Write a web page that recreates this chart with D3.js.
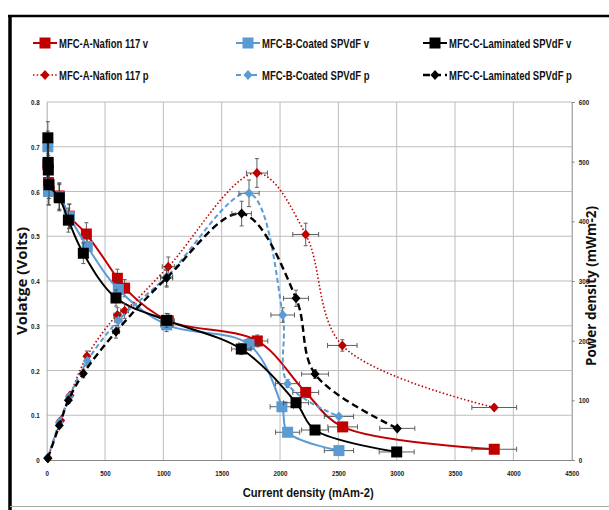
<!DOCTYPE html>
<html><head><meta charset="utf-8">
<script src="https://cdn.jsdelivr.net/npm/d3@7"></script>
<style>body{margin:0;background:#fff}svg{display:block}</style>
</head><body>
<svg id="c" width="609" height="510"></svg>
<script>
// ---- data ----
const xTicks = [0,500,1000,1500,2000,2500,3000,3500,4000,4500];
const vTicks = [0,0.1,0.2,0.3,0.4,0.5,0.6,0.7,0.8];
const pTicks = [0,100,200,300,400,500,600];
const seriesNames = ["MFC-A-Nafion 117 v","MFC-B-Coated SPVdF v","MFC-C-Laminated SPVdF v",
                     "MFC-A-Nafion 117 p","MFC-B-Coated SPVdF p","MFC-C-Laminated SPVdF p"];
// voltage (current density mA m-2, volts)
const aI_v = [10,15,20,108,194,340,606,668,1042,1805,2220,2537,3836];
const aV   = [0.66,0.62,0.60,0.59,0.545,0.505,0.406,0.384,0.311,0.266,0.151,0.074,0.024];
const bI_v = [10,12,15,108,194,348,614,1028,1734,2016,2065,2505];
const bV   = [0.70,0.665,0.60,0.588,0.544,0.477,0.381,0.302,0.258,0.119,0.062,0.021];
const cI_v = [10,12,14,20,108,186,314,594,1028,1668,2137,2300,3000];
const cV   = [0.72,0.665,0.648,0.615,0.586,0.536,0.462,0.362,0.312,0.248,0.128,0.067,0.018];
// power (current density, mW m-2)
const aI_p = [10,120,200,345,606,668,1042,1802,2220,2534,3836];
const aP   = [3,66,108,174,243,250,324,481,378,192,88];
const bI_p = [10,108,194,348,614,1028,1734,2023,2065,2505];
const bP   = [4,63,106,166,234,307,447,243,128,73];
const cI_p = [10,108,186,314,594,1028,1671,2137,2300,3005];
const cP   = [3,58,100,145,215,305,413,271,144,53];
const errPct = 0.05; // percentage error bars

// ---- layout ----
const svg = d3.select("#c");
const L=46.7, R=571.7, T=102, B=460;
const x = d3.scaleLinear().domain([0,4500]).range([L,R]);
const yV = d3.scaleLinear().domain([0,0.8]).range([B,T]);
const yP = d3.scaleLinear().domain([0,600]).range([B,T]);
const FONT = "'Liberation Sans',Arial,sans-serif";
// condense a text horizontally (narrow Calibri-like look)
const condense = (sel, f) => sel.each(function(){
  const w = this.getComputedTextLength();
  d3.select(this).attr("textLength", w*f).attr("lengthAdjust","spacingAndGlyphs");
});

// frame
svg.append("line").attr("x1",10).attr("x2",10).attr("y1",15).attr("y2",510).attr("stroke","#000").attr("stroke-width",3.5);
svg.append("line").attr("x1",8).attr("x2",609).attr("y1",16).attr("y2",16).attr("stroke","#000").attr("stroke-width",2.5);
svg.append("line").attr("x1",10).attr("x2",609).attr("y1",506.5).attr("y2",506.5).attr("stroke","#aaa").attr("stroke-width",1);

// grid
const g = svg.append("g");
g.selectAll(".gx").data(xTicks.slice(1,-1)).join("line")
  .attr("x1",d=>x(d)).attr("x2",d=>x(d)).attr("y1",T).attr("y2",B)
  .attr("stroke","#bdbdbd").attr("stroke-width",1);
g.selectAll(".gy").data(vTicks.slice(1)).join("line")
  .attr("x1",L).attr("x2",R).attr("y1",d=>yV(d)).attr("y2",d=>yV(d))
  .attr("stroke","#bdbdbd").attr("stroke-width",1);

// axes
const tickFont = sel => condense(sel.selectAll("text").attr("font-family",FONT).attr("font-weight","bold")
  .attr("font-size","8px").attr("fill","#222"), 0.78);
const ax = svg.append("g").attr("transform",`translate(0,${B})`)
  .call(d3.axisBottom(x).tickValues(xTicks).tickSize(0).tickPadding(10).tickFormat(d3.format("d")));
ax.select(".domain").attr("stroke","#888");
tickFont(ax);
const ayl = svg.append("g").attr("transform",`translate(${L},0)`)
  .call(d3.axisLeft(yV).tickValues(vTicks).tickSize(0).tickPadding(7).tickFormat(d=>d===0?"0":d3.format(".1f")(d)));
ayl.select(".domain").attr("stroke","#aaa");
tickFont(ayl);
const ayr = svg.append("g").attr("transform",`translate(${R},0)`)
  .call(d3.axisRight(yP).tickValues(pTicks).tickSize(3).tickPadding(4).tickFormat(d3.format("d")));
ayr.select(".domain").attr("stroke","#888");
ayr.selectAll("line").attr("stroke","#888");
tickFont(ayr);

// axis titles
svg.append("text").attr("transform",`translate(27,${(T+B)/2}) rotate(-90)`).attr("text-anchor","middle")
  .attr("font-family","'Open Sans',sans-serif").attr("font-weight","bold").attr("font-size","15px").attr("fill","#111")
  .text("Volatge (Volts)");
svg.append("text").attr("transform",`translate(596,${(T+B)/2+5}) rotate(-90)`).attr("text-anchor","middle")
  .attr("font-family","'Open Sans',sans-serif").attr("font-weight","bold").attr("font-size","13.5px").attr("fill","#111")
  .text("Power density (mWm-2)");
condense(svg.append("text").attr("x",(L+R)/2-1).attr("y",497).attr("text-anchor","middle")
  .attr("font-family",FONT).attr("font-weight","bold").attr("font-size","13px").attr("fill","#111")
  .text("Current density (mAm-2)"), 0.86);

// series definitions
const RED="#c00000", BLUE="#5b9bd5", BLK="#000";
const series = [
  {name:seriesNames[0], xs:aI_v, ys:aV, y:yV, color:RED,  dash:null,  w:2,   shape:"square"},
  {name:seriesNames[1], xs:bI_v, ys:bV, y:yV, color:BLUE, dash:null,  w:2,   shape:"square"},
  {name:seriesNames[2], xs:cI_v, ys:cV, y:yV, color:BLK,  dash:null,  w:2,   shape:"square"},
  {name:seriesNames[3], xs:aI_p, ys:aP, y:yP, color:RED,  dash:"1.5,2.2", w:1.6, shape:"diamond"},
  {name:seriesNames[4], xs:bI_p, ys:bP, y:yP, color:BLUE, dash:"5,3", w:2,   shape:"diamond"},
  {name:seriesNames[5], xs:cI_p, ys:cP, y:yP, color:BLK,  dash:"7,4", w:2.4, shape:"diamond"}
];
const marker = (sel, shape, color) => {
  if (shape==="square") sel.append("rect").attr("x",-5.5).attr("y",-5.5).attr("width",11).attr("height",11).attr("fill",color);
  else sel.append("path").attr("d","M0,-5 L4.5,0 L0,5 L-4.5,0Z").attr("fill",color);
};
const plot = svg.append("g");
series.forEach(s=>{
  const pts = s.xs.map((v,i)=>({x:v,y:s.ys[i]}));
  const line = d3.line().x(d=>x(d.x)).y(d=>s.y(d.y)).curve(d3.curveCatmullRom.alpha(0.5));
  plot.append("path").attr("d",line(pts)).attr("fill","none").attr("stroke",s.color)
    .attr("stroke-width",s.w).attr("stroke-dasharray",s.dash);
  // error bars
  const eb = plot.append("g").attr("stroke","#444").attr("stroke-width",1).attr("opacity",0.85);
  pts.forEach(d=>{
    const cx=x(d.x), cy=s.y(d.y);
    const y1=s.y(d.y*(1+errPct)), y2=s.y(d.y*(1-errPct));
    const x1=x(d.x*(1-errPct)), x2=x(d.x*(1+errPct));
    eb.append("line").attr("x1",cx).attr("x2",cx).attr("y1",y1).attr("y2",y2);
    eb.append("line").attr("x1",cx-2).attr("x2",cx+2).attr("y1",y1).attr("y2",y1);
    eb.append("line").attr("x1",cx-2).attr("x2",cx+2).attr("y1",y2).attr("y2",y2);
    eb.append("line").attr("x1",x1).attr("x2",x2).attr("y1",cy).attr("y2",cy);
    eb.append("line").attr("x1",x1).attr("x2",x1).attr("y1",cy-2.5).attr("y2",cy+2.5);
    eb.append("line").attr("x1",x2).attr("x2",x2).attr("y1",cy-2.5).attr("y2",cy+2.5);
  });
  pts.forEach(d=>{
    marker(plot.append("g").attr("transform",`translate(${x(d.x)},${s.y(d.y)})`), s.shape, s.color);
  });
});

// legend (text condensed with a horizontal scale transform)
const legX = [33, 236, 423], legY = [43, 75];
series.forEach((s,i)=>{
  const lg = svg.append("g").attr("transform",`translate(${legX[i%3]},${legY[Math.floor(i/3)]})`);
  lg.append("line").attr("x1",0).attr("x2",24).attr("y1",0).attr("y2",0).attr("stroke",s.color)
    .attr("stroke-width",s.w).attr("stroke-dasharray",s.dash);
  marker(lg.append("g").attr("transform","translate(12,0)"), s.shape, s.color);
  lg.append("text").attr("transform","translate(26,4.5) scale(0.76,1)").attr("font-family",FONT).attr("font-weight","bold")
    .attr("font-size","12.5px").attr("fill","#111").text(s.name);
});
</script>
</body></html>
